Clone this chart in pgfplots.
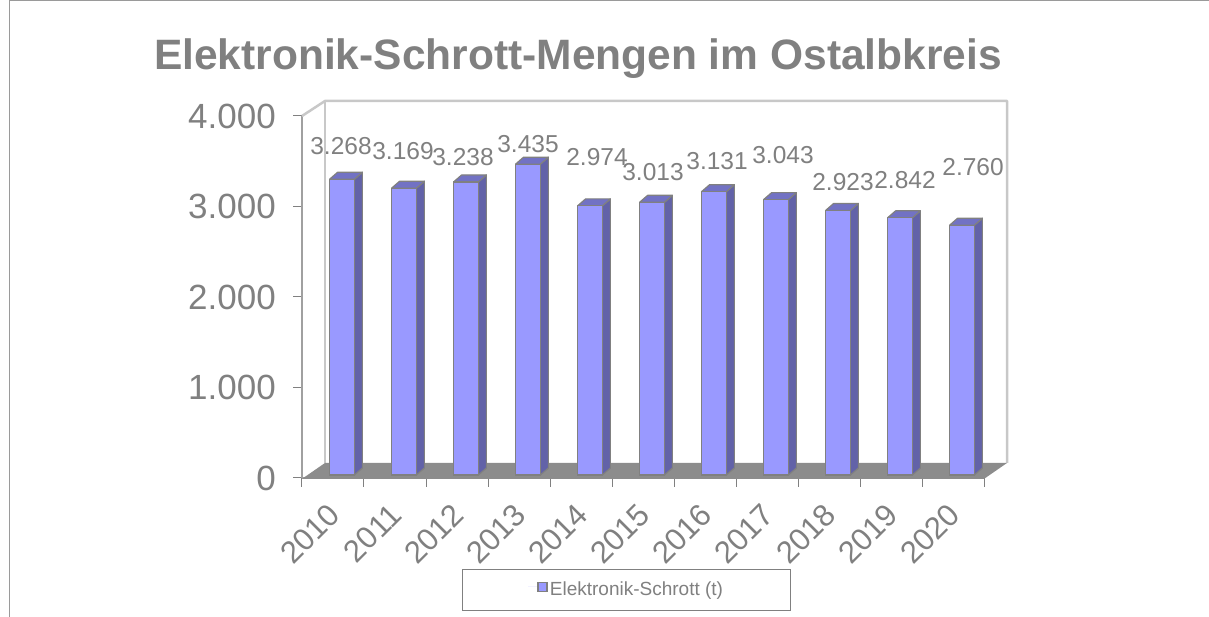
\documentclass[border=0pt]{standalone}
\usepackage{fontspec}
\setmainfont{Liberation Sans}
\usepackage{pgfplots}
\pgfplotsset{compat=1.18}
\definecolor{ink}{HTML}{808080}
\definecolor{wall}{HTML}{C8C8C8}
\definecolor{floorc}{HTML}{8C8C8C}
\definecolor{barfront}{HTML}{9999FF}
\definecolor{barside}{HTML}{6262A8}
\definecolor{bartop}{HTML}{7272C4}
\tikzset{vlabel/.style={font=\fontsize{24.5}{24.5}\selectfont, text=ink, inner sep=0pt}}
\pgfplotsset{
  side/.style={fill=barside, draw=ink, line width=1.2pt, line join=round, yshift=3pt, forget plot},
  topf/.style={fill=bartop, draw=ink, line width=1.2pt, line join=round, yshift=3pt, forget plot}}
\begin{document}
\begin{tikzpicture}
\path[use as bounding box] (-302pt,-139pt) rectangle (907pt,478pt);
\begin{axis}[
  at={(0pt,0pt)}, anchor=south west, scale only axis,
  width=682pt, height=362pt, clip=false,
  xmin=-0.5, xmax=10.5, ymin=0, ymax=4000,
  axis x line*=bottom, axis y line*=left,
  axis line style={-, wall!80!black, line width=1.2pt},
  tick align=outside, tick style={draw=ink, line width=1pt}, major tick length=9pt,
  ytick={0,1000,2000,3000,4000},
  yticklabels={0,1.000,2.000,3.000,4.000},
  yticklabel style={font=\fontsize{35}{35}\selectfont, text=ink, inner xsep=0pt, xshift=-17pt},
  xtick={-0.5,0.5,1.5,2.5,3.5,4.5,5.5,6.5,7.5,8.5,9.5,10.5},
  x tick label as interval,
  xticklabels={2010,2011,2012,2013,2014,2015,2016,2017,2018,2019,2020},
  xticklabel style={font=\fontsize{31}{31}\selectfont, text=ink, rotate=45, anchor=north east, inner sep=0pt, yshift=-5.6pt, xshift=-14.6pt},
  title={\fontsize{42.5}{42.5}\selectfont\bfseries Elektronik-Schrott-Mengen im Ostalbkreis},
  title style={text=ink, at={(0.4047,1)}, anchor=center, yshift=51pt, inner sep=0pt},
  legend style={at={(0.476,-0.309)}, anchor=center, draw=ink, line width=0.8pt, fill=white,
    font=\fontsize{19}{19}\selectfont, text=ink, inner xsep=65.5pt, inner ysep=11pt},
  legend image code/.code={\path[draw=none] (0pt,0pt) -- (10pt,0pt);
    \draw[fill=barfront, draw=ink, line width=1.5pt] (10pt,-4.5pt) rectangle (19pt,4.5pt);},
  legend cell align=left,
]
% walls and floor
\fill[white] (axis cs:-0.129,166) rectangle (axis cs:10.871,4166);
\draw[wall, line width=2.5pt, line join=round] (axis cs:-0.5,4000) -- (axis cs:-0.129,4166) -- (axis cs:10.871,4166) -- (axis cs:10.871,166);
\draw[wall, line width=2.5pt] (axis cs:-0.129,4166) -- (axis cs:-0.129,166);
\fill[floorc] (axis cs:-0.5,-10) -- (axis cs:-0.129,166) -- (axis cs:10.871,166) -- (axis cs:10.5,-10) -- cycle;
% side faces
\addplot[side] coordinates {(0.345,0) (0.474,77) (0.474,3345) (0.345,3268)} -- cycle;
\addplot[side] coordinates {(1.345,0) (1.474,77) (1.474,3246) (1.345,3169)} -- cycle;
\addplot[side] coordinates {(2.345,0) (2.474,77) (2.474,3315) (2.345,3238)} -- cycle;
\addplot[side] coordinates {(3.345,0) (3.474,77) (3.474,3512) (3.345,3435)} -- cycle;
\addplot[side] coordinates {(4.345,0) (4.474,77) (4.474,3051) (4.345,2974)} -- cycle;
\addplot[side] coordinates {(5.345,0) (5.474,77) (5.474,3090) (5.345,3013)} -- cycle;
\addplot[side] coordinates {(6.345,0) (6.474,77) (6.474,3208) (6.345,3131)} -- cycle;
\addplot[side] coordinates {(7.345,0) (7.474,77) (7.474,3120) (7.345,3043)} -- cycle;
\addplot[side] coordinates {(8.345,0) (8.474,77) (8.474,3000) (8.345,2923)} -- cycle;
\addplot[side] coordinates {(9.345,0) (9.474,77) (9.474,2919) (9.345,2842)} -- cycle;
\addplot[side] coordinates {(10.345,0) (10.474,77) (10.474,2837) (10.345,2760)} -- cycle;
% top faces
\addplot[topf] coordinates {(-0.055,3268) (0.074,3345) (0.474,3345) (0.345,3268)} -- cycle;
\addplot[topf] coordinates {(0.945,3169) (1.074,3246) (1.474,3246) (1.345,3169)} -- cycle;
\addplot[topf] coordinates {(1.945,3238) (2.074,3315) (2.474,3315) (2.345,3238)} -- cycle;
\addplot[topf] coordinates {(2.945,3435) (3.074,3512) (3.474,3512) (3.345,3435)} -- cycle;
\addplot[topf] coordinates {(3.945,2974) (4.074,3051) (4.474,3051) (4.345,2974)} -- cycle;
\addplot[topf] coordinates {(4.945,3013) (5.074,3090) (5.474,3090) (5.345,3013)} -- cycle;
\addplot[topf] coordinates {(5.945,3131) (6.074,3208) (6.474,3208) (6.345,3131)} -- cycle;
\addplot[topf] coordinates {(6.945,3043) (7.074,3120) (7.474,3120) (7.345,3043)} -- cycle;
\addplot[topf] coordinates {(7.945,2923) (8.074,3000) (8.474,3000) (8.345,2923)} -- cycle;
\addplot[topf] coordinates {(8.945,2842) (9.074,2919) (9.474,2919) (9.345,2842)} -- cycle;
\addplot[topf] coordinates {(9.945,2760) (10.074,2837) (10.474,2837) (10.345,2760)} -- cycle;
% front faces
\addplot[ybar, bar width=0.4, bar shift=0.145, fill=barfront, draw=ink, line width=1.2pt, yshift=3pt]
  coordinates {(0,3268) (1,3169) (2,3238) (3,3435) (4,2974) (5,3013) (6,3131) (7,3043) (8,2923) (9,2842) (10,2760)};
\addlegendentry{Elektronik-Schrott (t)}
% value labels
\node[vlabel] at (axis cs:0.129,3669) {3.268};
\node[vlabel] at (axis cs:1.129,3613) {3.169};
\node[vlabel] at (axis cs:2.097,3547) {3.238};
\node[vlabel] at (axis cs:3.145,3691) {3.435};
\node[vlabel] at (axis cs:4.258,3547) {2.974};
\node[vlabel] at (axis cs:5.161,3381) {3.013};
\node[vlabel] at (axis cs:6.194,3503) {3.131};
\node[vlabel] at (axis cs:7.258,3569) {3.043};
\node[vlabel] at (axis cs:8.226,3271) {2.923};
\node[vlabel] at (axis cs:9.226,3293) {2.842};
\node[vlabel] at (axis cs:10.323,3436) {2.760};
\end{axis}
% chart frame
\draw[ink!80, line width=0.8pt] (-293pt,-139pt) -- (-293pt,477.5pt) -- (907pt,477.5pt);
\end{tikzpicture}
\end{document}
